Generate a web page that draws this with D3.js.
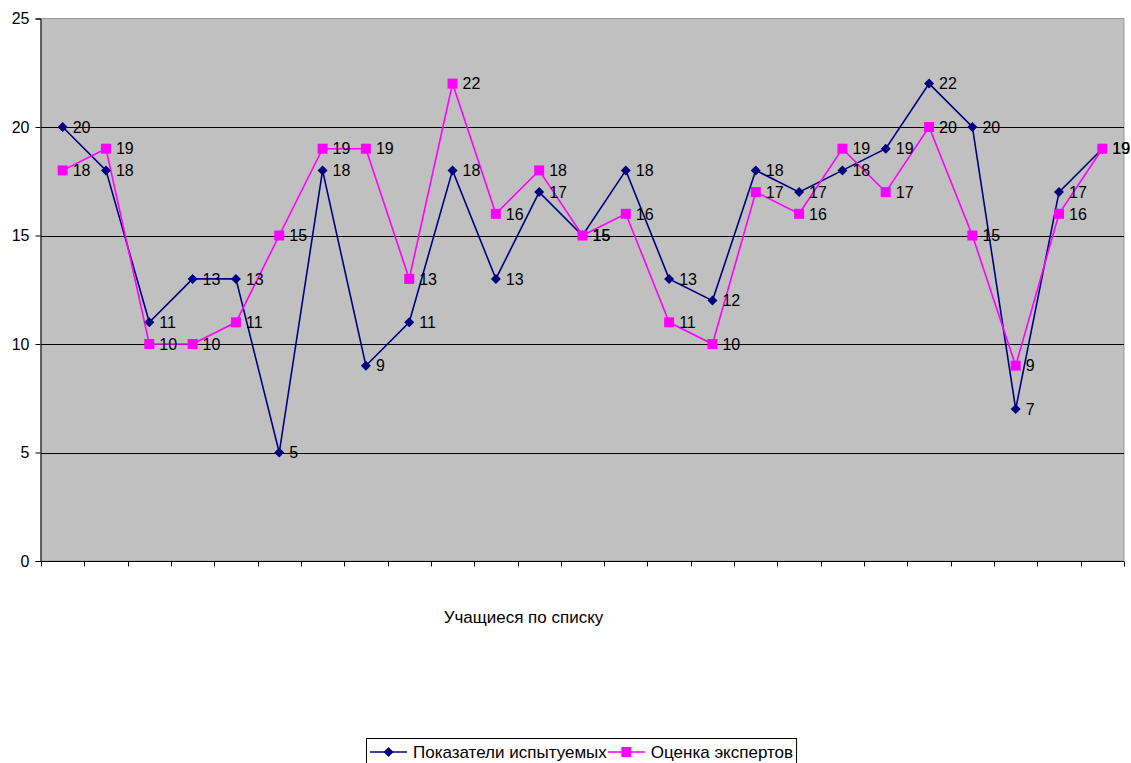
<!DOCTYPE html>
<html><head><meta charset="utf-8">
<script src="https://cdn.jsdelivr.net/npm/d3@7"></script>
<style>body{margin:0;background:#fff;}svg{display:block;font-family:"Liberation Sans",Arial,sans-serif;}</style>
</head><body>
<svg id="c" width="1131" height="763"></svg>
<script>
const categories = d3.range(1, 26);
const seriesNames = ["Показатели испытуемых", "Оценка экспертов"];
const subjects = [20,18,11,13,13,5,18,9,11,18,13,17,15,18,13,12,18,17,18,19,22,20,7,17,19];
const experts  = [18,19,10,10,11,15,19,19,13,22,16,18,15,16,11,10,17,16,19,17,20,15,9,16,19];
const yTicks = [0,5,10,15,20,25];
const xTitle = "Учащиеся по списку";

const svg = d3.select("#c");
const L = 41, R = 1124, T = 18.5, B = 561;
const x = d3.scaleBand().domain(categories).range([L, R]);
const y = d3.scaleLinear().domain([0, 25]).range([B, T]);

svg.append("rect").attr("x", L).attr("y", T).attr("width", R - L).attr("height", B - T)
  .attr("fill", "#c0c0c0").attr("stroke", "#999").attr("stroke-width", 1);

svg.append("g").selectAll("line").data(yTicks.filter(d => d > 0 && d < 25)).join("line")
  .attr("x1", L).attr("x2", R).attr("y1", d => Math.round(y(d)) + 0.5).attr("y2", d => Math.round(y(d)) + 0.5)
  .attr("stroke", "#000").attr("stroke-width", 1);

const yAxis = d3.axisLeft(y).tickValues(yTicks).tickSize(5).tickPadding(6);
const gy = svg.append("g").attr("transform", `translate(${L - 0.5},0)`).call(yAxis);
gy.select(".domain").attr("stroke", "#000");
gy.selectAll("text").attr("font-size", 16).attr("fill", "#000");

const gx = svg.append("g").attr("transform", `translate(0,${B + 0.5})`);
gx.append("line").attr("x1", L - 5).attr("x2", R).attr("stroke", "#000");
const bounds = categories.map(c => x(c)).concat([R]);
gx.selectAll("line.t").data(bounds).join("line").attr("class", "t")
  .attr("x1", d => Math.round(d) + 0.5).attr("x2", d => Math.round(d) + 0.5)
  .attr("y1", 0).attr("y2", 5).attr("stroke", "#000");

svg.append("text").attr("x", 523.5).attr("y", 617).attr("dy", "0.36em").attr("text-anchor", "middle")
  .attr("font-size", 17).text(xTitle);

const cx = c => x(c) + x.bandwidth() / 2;
const line = d3.line().x((d, i) => cx(categories[i])).y(d => y(d));

const series = [
  {name: seriesNames[0], vals: subjects, color: "#000080", shape: "diamond"},
  {name: seriesNames[1], vals: experts, color: "#ff00ff", shape: "square"}
];

series.forEach(s => {
  svg.append("path").datum(s.vals).attr("d", line).attr("fill", "none")
    .attr("stroke", s.color).attr("stroke-width", 1.6);
});
series.forEach(s => {
  const g = svg.append("g");
  s.vals.forEach((v, i) => {
    const px = cx(categories[i]), py = y(v);
    if (s.shape === "diamond") {
      g.append("path").attr("d", `M${px},${py-5}L${px+5},${py}L${px},${py+5}L${px-5},${py}Z`).attr("fill", s.color);
    } else {
      g.append("rect").attr("x", px - 5).attr("y", py - 5).attr("width", 10).attr("height", 10).attr("fill", s.color);
    }
    svg.append("text").attr("x", px + 10).attr("y", py).attr("dy", "0.36em")
      .attr("font-size", 16).attr("fill", "#000").text(v);
  });
});

// legend
const lg = svg.append("g").attr("transform", "translate(366,738)");
const box = lg.append("rect").attr("x", 0.5).attr("y", 0.5).attr("height", 30).attr("fill", "#fff").attr("stroke", "#000");
let cur = 4;
series.forEach(s => {
  lg.append("line").attr("x1", cur).attr("x2", cur + 37).attr("y1", 14).attr("y2", 14).attr("stroke", s.color).attr("stroke-width", 1.6);
  const mx = cur + 18.5;
  if (s.shape === "diamond") lg.append("path").attr("d", `M${mx},9L${mx+5},14L${mx},19L${mx-5},14Z`).attr("fill", s.color);
  else lg.append("rect").attr("x", mx - 5).attr("y", 9).attr("width", 10).attr("height", 10).attr("fill", s.color);
  const t = lg.append("text").attr("x", cur + 43).attr("y", 14).attr("dy", "0.36em").attr("font-size", 17).text(s.name);
  cur = cur + 43 + t.node().getComputedTextLength() + 1;
});
box.attr("width", cur + 2);
</script>
</body></html>
